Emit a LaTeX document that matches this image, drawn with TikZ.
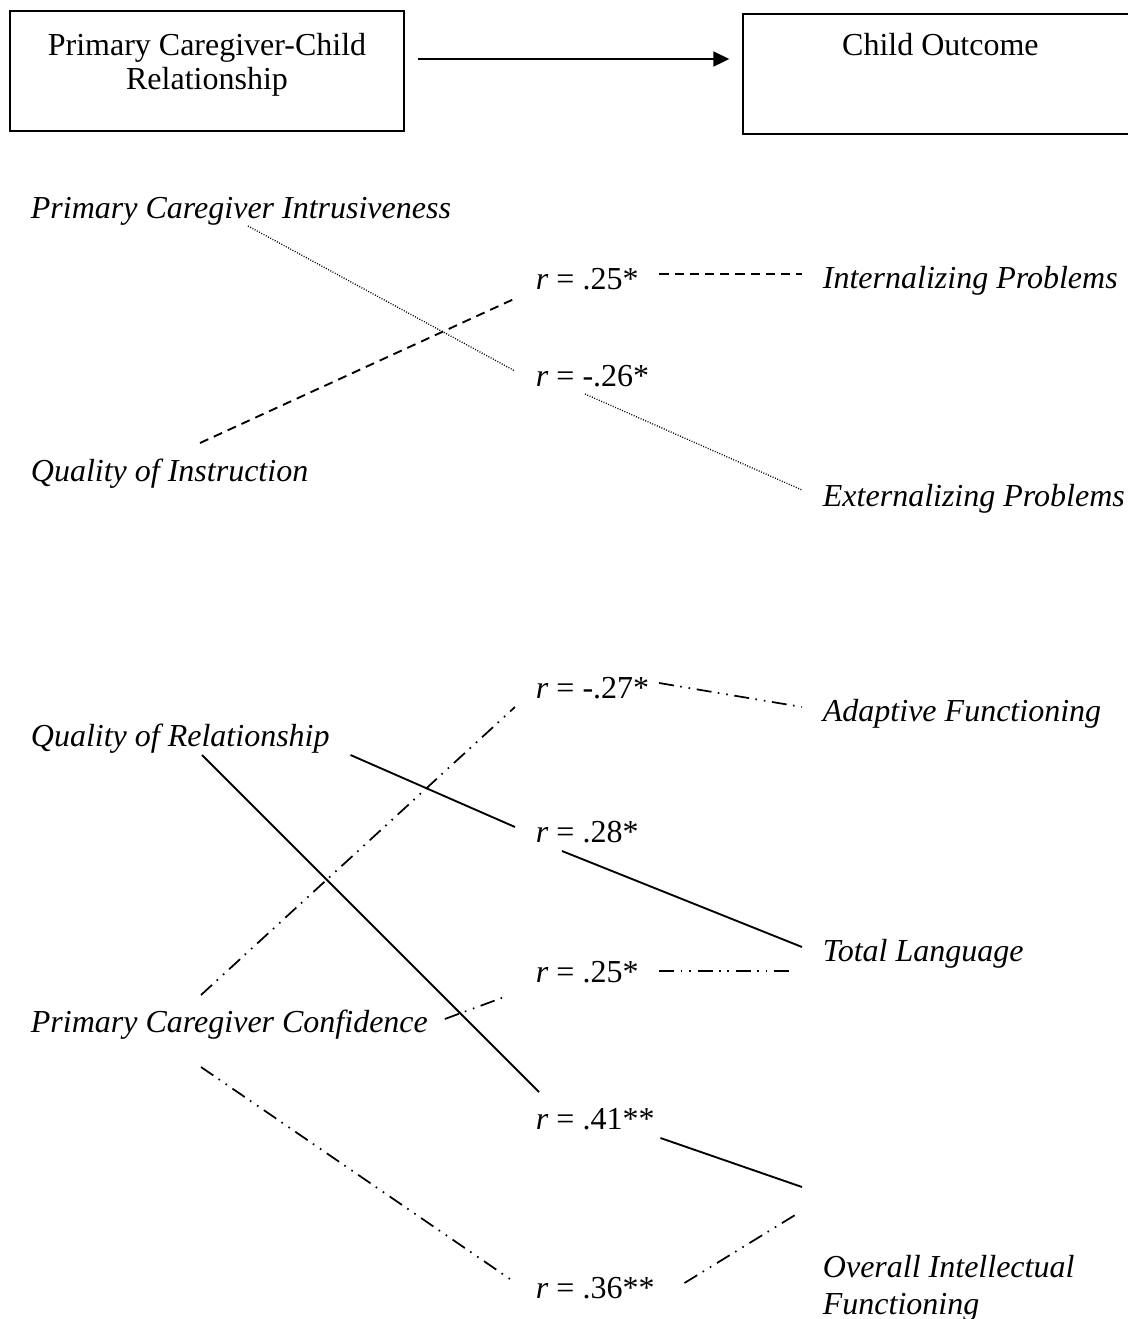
\documentclass[tikz,border=0pt]{standalone}
\usepackage{fontspec}
\setmainfont{Liberation Serif}
\usetikzlibrary{positioning}
\usetikzlibrary{arrows.meta}

\begin{document}
\begin{tikzpicture}[x=0.375pt, y=-0.375pt, line width=0.7pt, font=\fontsize{12pt}{13pt}\selectfont]
		\tikzstyle{block}=[draw=black, rectangle, fill=none, line width=0.75pt, inner sep=0pt]
		\tikzstyle{measure}=[anchor=base west, inner sep=0pt, font=\fontsize{12pt}{14pt}\selectfont\itshape]
		\tikzstyle{coef}=[anchor=base west, inner sep=0pt]
		\tikzstyle{dotline}=[line width=0.5pt, dash pattern=on 0.35pt off 0.6pt]
		\tikzstyle{dashline}=[dash pattern=on 3.4pt off 2.3pt]
		\tikzstyle{dashdotdotline}=[line width=0.65pt, dash pattern=on 5.6pt off 2.4pt on 0.6pt off 2.6pt on 0.6pt off 2.5pt]
		
		\useasboundingbox (0,0) rectangle (1128,1319);
		\clip (0,0) rectangle (1128,1319);
		
		% header boxes
		\node[block, minimum width=147.75pt, minimum height=45pt] (rel) at (207,71) {};
		\node[below=8.25pt of rel.north, align=center, inner sep=0pt] (reltxt) {Primary Caregiver-Child\\ Relationship};
		\node[block, minimum width=149pt, minimum height=45pt] (outc) at (942,74) {};
		\node[below=7.1pt of outc.north, xshift=-0.6pt, inner sep=0pt] (outctxt) {Child Outcome};
		\draw[line width=0.75pt, -{Triangle[length=6pt, width=5.6pt]}] ([shift={(13,-12)}]rel.east) -- ([shift={(-13,-15)}]outc.west);
		
		% predictors
		\node[measure] (intr) at (30,218) {Primary Caregiver Intrusiveness};
		\node[measure] (qi) at (30,481) {Quality of Instruction};
		\node[measure] (qr) at (30,746) {Quality of Relationship};
		\node[measure] (conf) at (30,1032) {Primary Caregiver Confidence};
		
		% correlations
		\node[coef] (r1) at (535,289) {\textit{r} = .25*};
		\node[coef] (r2) at (535,386) {\textit{r} = -.26*};
		\node[coef] (r3) at (535,698) {\textit{r} = -.27*};
		\node[coef] (r4) at (535,842) {\textit{r} = .28*};
		\node[coef] (r5) at (535,982) {\textit{r} = .25*};
		\node[coef] (r6) at (535,1129) {\textit{r} = .41**};
		\node[coef] (r7) at (535,1298) {\textit{r} = .36**};
		
		% outcomes
		\node[measure] (intp) at (822,288) {Internalizing Problems};
		\node[measure] (extp) at (822,506) {Externalizing Problems};
		\node[measure] (adap) at (822,721) {Adaptive Functioning};
		\node[measure] (lang) at (822,961) {Total Language};
		\node[measure, anchor=north west, align=left] (oif) at (822,1254) {Overall Intellectual\\ Functioning};
		
		% intrusiveness
		\draw[dotline] ([shift={(218,8)}]intr.base west) -- ([shift={(-20,-15)}]r2.base west);
		\draw[dotline] ([shift={(50,8)}]r2.base west) -- ([shift={(-20,-16)}]extp.base west);
		% quality of instruction
		\draw[dashline] ([shift={(170,-38)}]qi.base west) -- ([shift={(-21,10)}]r1.base west);
		\draw[dashline] ([shift={(20,-15)}]r1.base east) -- ([shift={(-20,-14)}]intp.base west);
		% quality of relationship
		\draw ([shift={(20,9)}]qr.base east) -- ([shift={(-20,-15)}]r4.base west);
		\draw ([shift={(27,9)}]r4.base west) -- ([shift={(-20,-14)}]lang.base west);
		\draw ([shift={(172,9)}]qr.base west) -- ([shift={(4,-37)}]r6.base west);
		\draw ([shift={(5,9)}]r6.base east) -- ([shift={(-20,-67)}]oif.north west);
		% confidence
		\draw[dashdotdotline] ([shift={(171,-37)}]conf.base west) -- ([shift={(-20,9)}]r3.base west);
		\draw[dashdotdotline] ([shift={(9,-15)}]r3.base east) -- ([shift={(-20,-14)}]adap.base west);
		\draw[dashdotdotline] ([shift={(16,-13)}]conf.base east) -- ([shift={(-28,14)}]r5.base west);
		\draw[dashdotdotline] ([shift={(20,-11)}]r5.base east) -- ([shift={(-28,10)}]lang.base west);
		\draw[dashdotdotline] ([shift={(171,35)}]conf.base west) -- ([shift={(-25,-19)}]r7.base west);
		\draw[dashdotdotline] ([shift={(29,-15)}]r7.base east) -- ([shift={(-22,-42)}]oif.north west);
\end{tikzpicture}
\end{document}
